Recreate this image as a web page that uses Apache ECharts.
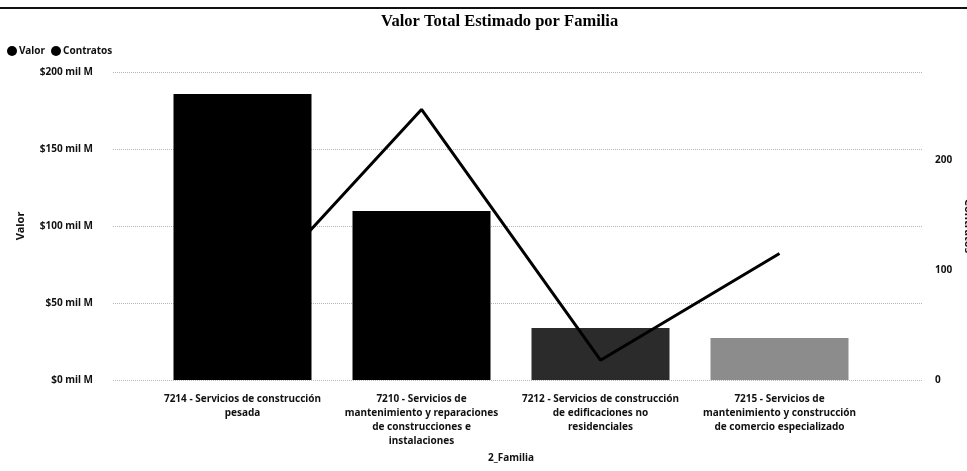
<!DOCTYPE html>
<html>
<head>
<meta charset="utf-8">
<title>Valor Total Estimado por Familia</title>
<script src="https://cdn.jsdelivr.net/npm/echarts@6/dist/echarts.min.js"></script>
<style>
    html, body { margin: 0; padding: 0; background: #fff; overflow: hidden; }
    #valor_familia { width: 967px; height: 471px; }
</style>
</head>
<body>
<div id="valor_familia"></div>
<script>

// Chart data
// ------------------------------

var categories = [
    '7214 - Servicios de construcción\npesada',
    '7210 - Servicios de\nmantenimiento y reparaciones\nde construcciones e\ninstalaciones',
    '7212 - Servicios de construcción\nde edificaciones no\nresidenciales',
    '7215 - Servicios de\nmantenimiento y construcción\nde comercio especializado'
];

// Valor, in "mil M"
var valorValues = [185.7, 109.7, 33.8, 27.3];

// Number of contracts
var contratosValues = [69, 246, 18, 115];

// Bar fill per family (as printed)
var barColors = ['#000000', '#000000', '#2b2b2b', '#8c8c8c'];


// Setup module
// ------------------------------

var EchartsValorFamilia = function() {

    var _valorFamiliaChart = function() {
        if (typeof echarts == 'undefined') {
            console.warn('Warning - echarts.min.js is not loaded.');
            return;
        }

        var valor_element = document.getElementById('valor_familia');

        if (valor_element) {

            var valor_chart = echarts.init(valor_element, null, { renderer: 'canvas' });

            var labelFont = {
                fontFamily: 'Noto Sans',
                fontSize: 10,
                fontWeight: 'bold',
                color: '#111'
            };

            valor_chart.setOption({

                animation: false,

                textStyle: {
                    fontFamily: 'Noto Sans'
                },

                // Title
                title: {
                    text: 'Valor Total Estimado por Familia',
                    left: 376,
                    top: 8,
                    textStyle: {
                        fontFamily: 'Liberation Serif',
                        fontSize: 16.5,
                        fontWeight: 'bold',
                        color: '#000'
                    }
                },

                // Scanned border line on top
                graphic: [{
                    type: 'rect',
                    left: 0,
                    top: 7,
                    shape: { width: 967, height: 2 },
                    style: { fill: '#111' }
                }],

                // Legend
                legend: {
                    data: ['Valor', 'Contratos'],
                    left: 2,
                    top: 41,
                    icon: 'circle',
                    itemWidth: 10,
                    itemHeight: 10,
                    itemGap: 6,
                    textStyle: {
                        fontFamily: 'Noto Sans',
                        fontSize: 10,
                        fontWeight: 'bold',
                        color: '#111',
                        padding: [0, 0, 0, -3]
                    }
                },

                // Grids: data grid and wider gridline grid
                grid: [
                    { left: 153, right: 98, top: 72, bottom: 91, outerBoundsMode: 'none' },
                    { left: 113, right: 45, top: 72, bottom: 91, outerBoundsMode: 'none' }
                ],

                // Horizontal axes
                xAxis: [
                    {
                        type: 'category',
                        gridIndex: 0,
                        data: categories,
                        name: '2_Familia',
                        nameLocation: 'middle',
                        nameGap: 72,
                        nameTextStyle: labelFont,
                        axisLine: { show: false },
                        axisTick: { show: false },
                        axisLabel: Object.assign({
                            margin: 12,
                            lineHeight: 14,
                            interval: 0,
                            align: 'center'
                        }, labelFont)
                    },
                    {
                        type: 'value',
                        gridIndex: 1,
                        show: false,
                        min: 0,
                        max: 1
                    }
                ],

                // Vertical axes
                yAxis: [
                    {
                        type: 'value',
                        gridIndex: 0,
                        min: 0,
                        max: 200,
                        interval: 50,
                        name: 'Valor',
                        nameLocation: 'middle',
                        nameGap: 127,
                        nameTextStyle: Object.assign({}, labelFont, { fontSize: 11 }),
                        axisLine: { show: false },
                        axisTick: { show: false },
                        splitLine: { show: false },
                        axisLabel: Object.assign({
                            margin: 60,
                            formatter: function(v) { return '$' + v + ' mil M'; }
                        }, labelFont)
                    },
                    {
                        type: 'value',
                        gridIndex: 0,
                        position: 'right',
                        min: 0,
                        max: 280,
                        interval: 100,
                        name: 'Contratos',
                        nameLocation: 'middle',
                        nameRotate: -90,
                        nameGap: 94,
                        nameTextStyle: Object.assign({}, labelFont, { fontSize: 11 }),
                        axisLine: { show: false },
                        axisTick: { show: false },
                        splitLine: { show: false },
                        axisLabel: Object.assign({
                            margin: 66,
                            showMaxLabel: false
                        }, labelFont)
                    },
                    {
                        type: 'value',
                        gridIndex: 1,
                        min: 0,
                        max: 200,
                        interval: 50,
                        axisLine: { show: false },
                        axisTick: { show: false },
                        axisLabel: { show: false },
                        splitLine: {
                            show: true,
                            lineStyle: {
                                color: '#b5b5b5',
                                type: 'dotted',
                                width: 1
                            }
                        }
                    }
                ],

                // Series
                series: [
                    {
                        name: 'Valor',
                        type: 'bar',
                        xAxisIndex: 0,
                        yAxisIndex: 0,
                        barWidth: 138,
                        itemStyle: { color: '#000' },
                        data: valorValues.map(function(v, i) {
                            return { value: v, itemStyle: { color: barColors[i] } };
                        }),
                        z: 2
                    },
                    {
                        name: 'Contratos',
                        type: 'line',
                        xAxisIndex: 0,
                        yAxisIndex: 1,
                        showSymbol: false,
                        symbol: 'circle',
                        itemStyle: { color: '#000' },
                        lineStyle: {
                            color: '#000',
                            width: 3
                        },
                        data: contratosValues,
                        z: 5
                    }
                ]
            });
        }
    };

    return {
        init: function() {
            _valorFamiliaChart();
        }
    }
}();


// Initialize module
// ------------------------------

document.addEventListener('DOMContentLoaded', function() {
    EchartsValorFamilia.init();
});
</script>
</body>
</html>
